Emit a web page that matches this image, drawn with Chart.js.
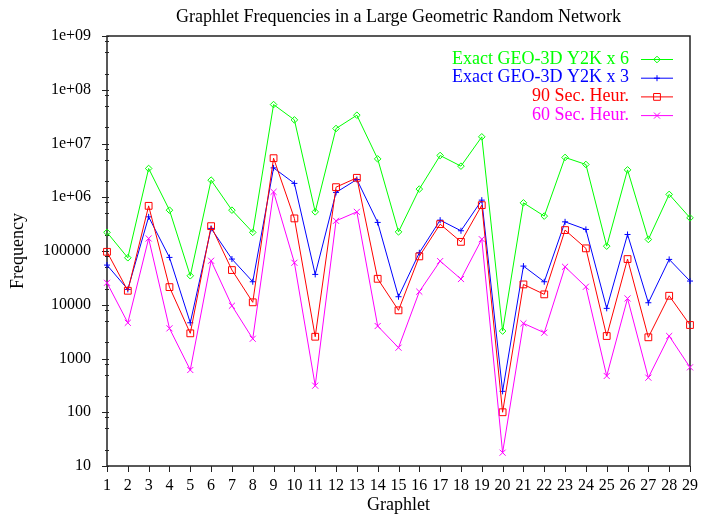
<!DOCTYPE html>
<html lang="en">
<head>
<meta charset="UTF-8">
<title>Graphlet Frequencies</title>
<script src="https://cdn.jsdelivr.net/npm/chart.js"></script>
<style>
  body { margin: 0; background: #fff; }
</style>
</head>
<body>
<canvas id="chart" width="702" height="514"></canvas>
<script>
// graphlet ids on the x axis
const graphlets = ['1','2','3','4','5','6','7','8','9','10','11','12','13','14','15',
  '16','17','18','19','20','21','22','23','24','25','26','27','28','29'];

// frequency per graphlet for each run
const exactX6 = [222000, 74800, 3430000, 575000, 34600, 2080000, 575000, 222000, 53000000, 27500000,
  535000, 19000000, 33600000, 5170000, 227000, 1420000, 5980000, 3790000, 13300000, 3240,
  787000, 446000, 5500000, 4070000, 123000, 3230000, 164000, 1130000, 414000];
const exactX3 = [54700, 19300, 432000, 76000, 4620, 263000, 70800, 26800, 3520000, 1810000,
  36700, 1230000, 2140000, 340000, 14100, 92700, 375000, 238000, 883000, 245,
  52400, 26800, 349000, 252000, 8570, 203000, 10900, 69800, 27600];
const heur90 = [96600, 18200, 692000, 21300, 2940, 290000, 44200, 11100, 5330000, 404000,
  2540, 1540000, 2300000, 30400, 7870, 79400, 316000, 148000, 713000, 100,
  23900, 15600, 245000, 112000, 2620, 70800, 2480, 14700, 4200];
const heur60 = [25600, 4620, 171000, 3640, 611, 65800, 9580, 2330, 1260000, 60400,
  312, 364000, 535000, 4020, 1590, 17500, 64900, 30100, 166000, 17.7,
  4510, 3020, 50800, 21600, 473, 13100, 440, 2620, 685];

// y axis labels (gnuplot style)
const yTickValues = [10, 100, 1000, 10000, 100000, 1e6, 1e7, 1e8, 1e9];
const yTickLabels = ['10', '100', '1000', '10000', '100000', '1e+06', '1e+07', '1e+08', '1e+09'];
const yMinorSteps = [2, 5, 8];

const TITLE = 'Graphlet Frequencies in a Large Geometric Random Network';
const FONT = "'Liberation Serif', 'Times New Roman', serif";

function series(label, data, color, style, radius, order) {
  return {
    label, data, order,
    borderColor: color,
    backgroundColor: 'rgba(0,0,0,0)',
    pointBorderColor: color,
    pointBackgroundColor: 'rgba(0,0,0,0)',
    borderWidth: 1,
    pointBorderWidth: 1,
    pointStyle: style,
    pointRadius: radius,
    pointHoverRadius: radius,
    tension: 0,
    clip: false
  };
}

// small marker drawer for the key
function drawMark(ctx, style, x, y, r) {
  ctx.beginPath();
  if (style === 'rectRot') {
    ctx.moveTo(x, y - r); ctx.lineTo(x + r, y); ctx.lineTo(x, y + r); ctx.lineTo(x - r, y); ctx.closePath();
  } else if (style === 'cross') {
    ctx.moveTo(x - r, y); ctx.lineTo(x + r, y); ctx.moveTo(x, y - r); ctx.lineTo(x, y + r);
  } else if (style === 'rect') {
    const s = r * Math.SQRT1_2;
    ctx.rect(x - s, y - s, 2 * s, 2 * s);
  } else {
    const s = r * Math.SQRT1_2;
    ctx.moveTo(x - s, y - s); ctx.lineTo(x + s, y + s); ctx.moveTo(x + s, y - s); ctx.lineTo(x - s, y + s);
  }
  ctx.stroke();
}

// title, border, tick marks and the key, drawn gnuplot-like
const frame = {
  id: 'frame',
  beforeDatasetsDraw(chart) {
    const { ctx, chartArea: a, scales: { x, y } } = chart;
    ctx.save();
    ctx.fillStyle = '#000';
    ctx.font = '18px ' + FONT;
    ctx.textAlign = 'center';
    ctx.textBaseline = 'middle';
    ctx.fillText(TITLE, (a.left + a.right) / 2, 17);

    ctx.strokeStyle = '#222';
    ctx.lineWidth = 1.5;
    ctx.strokeRect(a.left, a.top, a.right - a.left, a.bottom - a.top);
    ctx.lineWidth = 1;
    ctx.beginPath();
    yTickValues.forEach(v => {
      const py = Math.round(y.getPixelForValue(v)) + 0.5;
      ctx.moveTo(a.left - 5, py); ctx.lineTo(a.left + 2, py);
      if (v < 1e9) {
        yMinorSteps.forEach(m => {
          const my = Math.round(y.getPixelForValue(v * m)) + 0.5;
          ctx.moveTo(a.left - 2, my); ctx.lineTo(a.left + 2, my);
        });
      }
    });
    graphlets.forEach((g, i) => {
      const px = Math.round(x.getPixelForValue(i)) + 0.5;
      ctx.moveTo(px, a.bottom); ctx.lineTo(px, a.bottom + 6);
    });
    ctx.stroke();
    ctx.restore();
  },
  afterDraw(chart) {
    const { ctx } = chart;
    const textRight = 629, lineL = 641, lineR = 673, top = 59, step = 18.7;
    ctx.save();
    ctx.font = '18px ' + FONT;
    ctx.textAlign = 'right';
    ctx.textBaseline = 'middle';
    chart.data.datasets.forEach((ds, i) => {
      const yy = top + i * step;
      ctx.fillStyle = ds.borderColor;
      ctx.fillText(ds.label, textRight, yy);
      ctx.strokeStyle = ds.borderColor;
      ctx.lineWidth = 1;
      ctx.beginPath();
      ctx.moveTo(lineL, yy + 0.5); ctx.lineTo(lineR, yy + 0.5);
      ctx.stroke();
      drawMark(ctx, ds.pointStyle, (lineL + lineR) / 2, yy + 0.5, ds.pointRadius);
    });
    ctx.restore();
  }
};

new Chart(document.getElementById('chart'), {
  type: 'line',
  data: {
    labels: graphlets,
    datasets: [
      series('Exact GEO-3D Y2K x 6', exactX6, '#00ff00', 'rectRot', 3.3, 3),
      series('Exact GEO-3D Y2K x 3', exactX3, '#0000ff', 'cross', 3, 2),
      series('90 Sec. Heur.', heur90, '#ff0000', 'rect', 4.8, 1),
      series('60 Sec. Heur.', heur60, '#ff00ff', 'crossRot', 4.3, 0)
    ]
  },
  options: {
    responsive: false,
    animation: false,
    layout: { padding: { top: 36, right: 12 } },
    plugins: {
      legend: { display: false },
      tooltip: { enabled: false },
      title: { display: false }
    },
    scales: {
      x: {
        type: 'category',
        offset: false,
        afterFit(s) { s.height = 48; },
        grid: { display: false },
        border: { display: false },
        ticks: { autoSkip: false, maxRotation: 0, padding: 2, color: '#000',
          font: { family: FONT, size: 16 } },
        title: { display: true, text: 'Graphlet', color: '#000',
          font: { family: FONT, size: 18, lineHeight: 1.0 }, padding: { top: 0, bottom: 0 } }
      },
      y: {
        type: 'logarithmic',
        min: 10,
        max: 1e9,
        afterFit(s) { s.width = 107; },
        afterBuildTicks(s) { s.ticks = yTickValues.map(v => ({ value: v })); },
        grid: { display: false },
        border: { display: false },
        ticks: {
          padding: 8, color: '#000',
          font: { family: FONT, size: 16 },
          callback: v => yTickLabels[yTickValues.indexOf(v)] || ''
        },
        title: { display: true, text: 'Frequency', color: '#000',
          font: { family: FONT, size: 18, lineHeight: 1.2 }, padding: { top: 7, bottom: 0 } }
      }
    }
  },
  plugins: [frame]
});
</script>
</body>
</html>
